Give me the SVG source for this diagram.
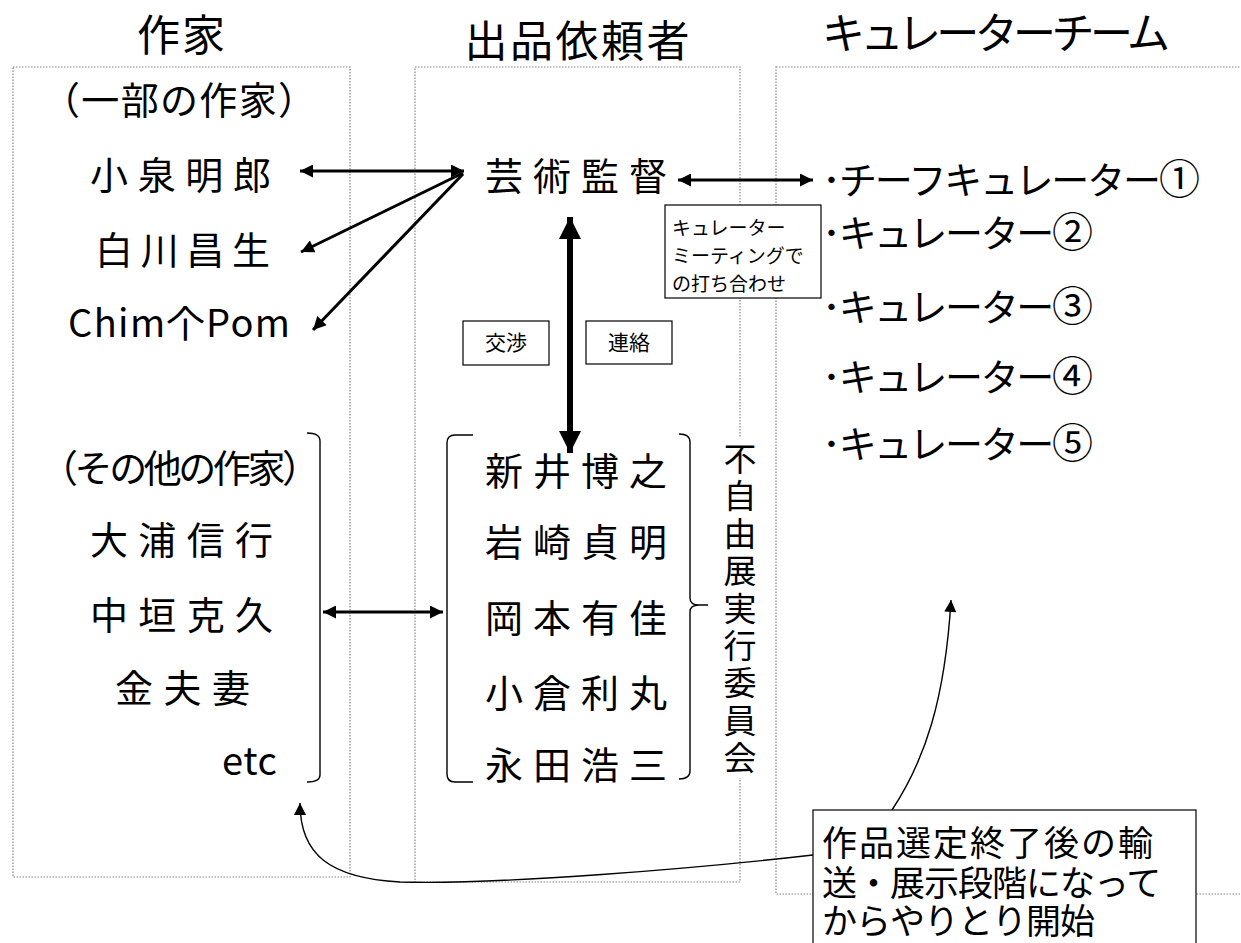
<svg xmlns="http://www.w3.org/2000/svg" width="1241" height="943" viewBox="0 0 1241 943">
<defs>
<style>
text{font-family:"Noto Sans CJK JP","Noto Sans",sans-serif;fill:#000}
.h{font-size:43px}
.t{font-size:38px}
.s{font-size:19px}
.m{font-size:21px}
.cn{font-size:41px}
.col{fill:none;stroke:#888;stroke-width:1.2;stroke-dasharray:1.5 1.5}
.ln{fill:none;stroke:#000;stroke-width:3}
.thick{fill:none;stroke:#000;stroke-width:6}
.thin{fill:none;stroke:#000;stroke-width:1.4}
.br{fill:none;stroke:#000;stroke-width:1.4}
.box{fill:#fff;stroke:#000;stroke-width:1.2}
</style>
<marker id="a" viewBox="0 0 10 10" refX="10" refY="5" markerUnits="userSpaceOnUse" markerWidth="16" markerHeight="13" orient="auto-start-reverse"><path d="M0,0 L10,5 L0,10 z" fill="#000"/></marker>
<marker id="b" viewBox="0 0 10 10" refX="10" refY="5" markerUnits="userSpaceOnUse" markerWidth="24" markerHeight="22" orient="auto-start-reverse"><path d="M0,0 L10,5 L0,10 z" fill="#000"/></marker>
<marker id="c" viewBox="0 0 10 10" refX="10" refY="5" markerUnits="userSpaceOnUse" markerWidth="14" markerHeight="12" orient="auto-start-reverse"><path d="M0,0 L10,5 L0,10 z" fill="#000"/></marker>
</defs>
<rect width="1241" height="943" fill="#fff"/>

<g id="columns">
<rect class="col" x="13" y="67" width="337" height="810"/>
<rect class="col" x="415" y="67" width="325" height="815"/>
<rect class="col" x="776" y="67" width="480" height="827"/>
</g>

<g id="headers">
<text class="h" x="181" y="51" text-anchor="middle" textLength="88">作家</text>
<text class="h" x="577" y="57" text-anchor="middle" textLength="225">出品依頼者</text>
<text class="h" x="822" y="49" font-size="40" textLength="348">キュレーターチーム</text>
</g>

<g id="artists-some">
<text class="t" x="42" y="114" textLength="274">（一部の作家）</text>
<text class="t" x="90" y="189" textLength="181">小泉明郎</text>
<text class="t" x="95" y="264" textLength="175">白川昌生</text>
<text class="t" x="68" y="337" textLength="222">Chim个Pom</text>
</g>

<g id="artists-other">
<text class="t" x="40" y="482" font-size="36" textLength="280">（その他の作家）</text>
<text class="t" x="90" y="554" textLength="183">大浦信行</text>
<text class="t" x="90" y="629" textLength="183">中垣克久</text>
<text class="t" x="115" y="702" textLength="135">金夫妻</text>
<text class="t" x="222" y="775" font-size="35" textLength="55">etc</text>
<path class="br" d="M307 433 Q320 433 320 441 L320 775 Q320 782 307 782"/>
</g>

<g id="director">
<text class="t" x="485" y="190" font-size="40" textLength="182">芸術監督</text>
</g>

<g id="committee">
<text class="t" x="485" y="485" textLength="182">新井博之</text>
<text class="t" x="485" y="556" textLength="182">岩崎貞明</text>
<text class="t" x="485" y="632" textLength="182">岡本有佳</text>
<text class="t" x="485" y="707" textLength="182">小倉利丸</text>
<text class="t" x="485" y="779" textLength="182">永田浩三</text>
<path class="br" d="M473 435 L455 435 Q447 435 447 443 L447 774 Q447 782 455 782 L473 782"/>
<path class="br" d="M679 434 Q690 434 690 442 L690 598 Q690 605 699 605 L708 605 M699 605 Q690 605 690 612 L690 771 Q690 779 679 779"/>
<rect x="720" y="437" width="40" height="341" fill="#fff"/>
<text x="740" y="442" font-size="33" writing-mode="vertical-rl" textLength="332">不自由展実行委員会</text>
</g>

<g id="curators">
<text class="t" x="822" y="194" textLength="378">･チーフキュレーター<tspan class="cn">①</tspan></text>
<text class="t" x="822" y="247" textLength="271">･キュレーター<tspan class="cn">②</tspan></text>
<text class="t" x="822" y="321" textLength="271">･キュレーター<tspan class="cn">③</tspan></text>
<text class="t" x="822" y="391" textLength="271">･キュレーター<tspan class="cn">④</tspan></text>
<text class="t" x="822" y="458" textLength="271">･キュレーター<tspan class="cn">⑤</tspan></text>
</g>

<g id="connectors">
<line class="ln" x1="300" y1="171" x2="464" y2="171" marker-start="url(#a)" marker-end="url(#a)"/>
<line class="ln" x1="463" y1="173" x2="301" y2="252" marker-end="url(#a)"/>
<line class="ln" x1="463" y1="174" x2="313" y2="330" marker-end="url(#a)"/>
<line class="ln" x1="678" y1="180" x2="813" y2="180" marker-start="url(#a)" marker-end="url(#a)"/>
<line class="thick" x1="570" y1="217" x2="570" y2="453" marker-start="url(#b)" marker-end="url(#b)"/>
<line class="ln" x1="323" y1="612" x2="443" y2="612" marker-start="url(#a)" marker-end="url(#a)"/>
<path class="thin" d="M892 810 C925 760 945 700 951 600" marker-end="url(#c)"/>
<path class="thin" d="M813 855 C700 868 500 885 400 882 C330 878 300 855 300 803" marker-end="url(#c)"/>
</g>

<g id="label-meeting">
<rect class="box" x="665" y="205" width="156" height="93"/>
<text class="s"><tspan x="672" y="235">キュレーター</tspan><tspan x="672" y="263">ミーティングで</tspan><tspan x="672" y="291">の打ち合わせ</tspan></text>
</g>

<g id="label-negotiation">
<rect class="box" x="463" y="321" width="86" height="44"/>
<text class="m" x="506" y="350" text-anchor="middle">交渉</text>
</g>

<g id="label-contact">
<rect class="box" x="586" y="321" width="86" height="43"/>
<text class="m" x="629" y="350" text-anchor="middle">連絡</text>
</g>

<g id="label-transport">
<rect class="box" x="813" y="810" width="383" height="150"/>
<text font-size="35"><tspan x="822" y="856" letter-spacing="2">作品選定終了後の輸</tspan><tspan x="822" y="896" letter-spacing="-1">送・展示段階になって</tspan><tspan x="822" y="934" letter-spacing="-1">からやりとり開始</tspan></text>
</g>
</svg>
